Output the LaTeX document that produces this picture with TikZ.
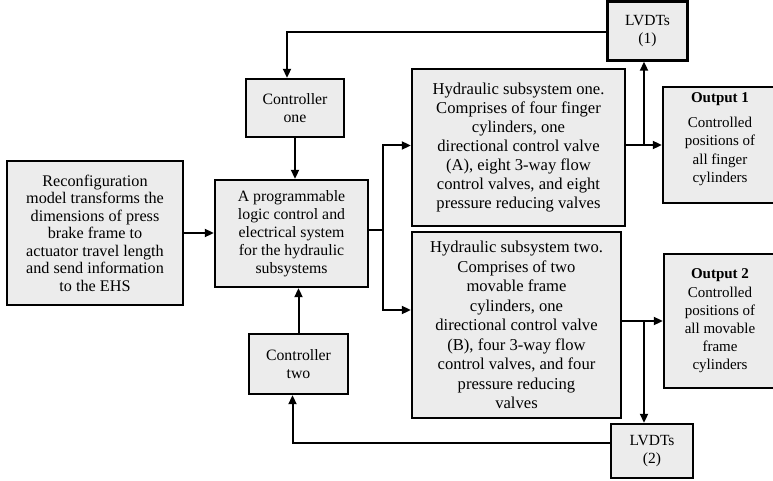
\documentclass[tikz,border=0pt]{standalone}
\usepackage{fontspec}
\setmainfont{Liberation Serif}
\usetikzlibrary{arrows.meta}
\definecolor{cajagris}{RGB}{236,236,236}
\newcommand{\letra}[2]{\fontsize{#1}{#2}\selectfont}

\begin{document}
\begin{tikzpicture}[x=1pt, y=-1pt,
    caja/.style={draw, line width=2.4pt, fill=cajagris, align=center,
                 inner sep=0pt, font=\letra{15.8}{18.2}},
    flecha/.style={line width=2pt, -{Triangle[length=9pt,width=8pt]}},
    linea/.style={line width=2pt}]
    \useasboundingbox (0,0) rectangle (773,481);

    % Bloques principales
    \node[caja, font=\letra{16.2}{17.5}, minimum width=176, minimum height=144]
        (recon) at (95,233)
        {Reconfiguration\\model transforms the\\dimensions of press\\brake frame to\\actuator travel length\\and send information\\to the EHS};
    \node[caja, font=\letra{15.8}{17.9}, minimum width=153, minimum height=107]
        (plc) at (291.5,233.5)
        {A programmable\\logic control and\\electrical system\\for the hydraulic\\subsystems};
    \node[caja, minimum width=98, minimum height=58] (ctrlone) at (295,108)
        {Controller\\one};
    \node[caja, minimum width=99, minimum height=60] (ctrltwo) at (298.5,364)
        {Controller\\two};

    % Subsistemas hidráulicos
    \node[caja, font=\letra{16.6}{19}, minimum width=213, minimum height=157]
        (hydone) at (518.5,147.5)
        {Hydraulic subsystem one.\\Comprises of four finger\\cylinders, one\\directional control valve\\(A), eight 3-way flow\\control valves, and eight\\pressure reducing valves};
    \node[caja, font=\letra{16.6}{19.5}, minimum width=209, minimum height=186]
        (hydtwo) at (516.5,325)
        {Hydraulic subsystem two.\\Comprises of two\\movable frame\\cylinders, one\\directional control valve\\(B), four 3-way flow\\control valves, and four\\pressure reducing\\valves};

    % Sensores LVDT
    \node[caja, font=\letra{15.5}{18.3}, minimum width=80, minimum height=59]
        (lvdtone) at (647.5,31) {LVDTs\\(1)};
    \node[caja, font=\letra{15.5}{18.3}, minimum width=82, minimum height=54]
        (lvdttwo) at (652,451) {LVDTs\\(2)};

    % Salidas (cortadas por el borde derecho)
    \node[caja, font=\letra{15}{18.3}, minimum width=114, minimum height=116]
        (outone) at (720,145)
        {\textbf{Output 1}\\[7pt]Controlled\\positions of\\all finger\\cylinders\\[-3pt]\mbox{}};
    \node[caja, font=\letra{15}{18.2}, minimum width=112, minimum height=134]
        (outtwo) at (720,321)
        {\textbf{Output 2}\\Controlled\\positions of\\all movable\\frame\\cylinders};

    % Entrada al PLC
    \draw[flecha] (recon.east) -- (recon.east -| plc.west);
    \draw[flecha] (ctrlone.south) -- (ctrlone.south |- plc.north);
    \draw[flecha] (ctrltwo.north) -- (ctrltwo.north |- plc.south);

    % Reparto hacia los subsistemas
    \coordinate (split) at (383,230);
    \draw[linea] (plc.east |- split) -- (split);
    \draw[flecha] (split) |- ([yshift=2pt]hydone.west);
    \draw[flecha] (split) |- ([yshift=15pt]hydtwo.west);

    % Salidas y realimentación 1
    \coordinate (tapone) at (644,145);
    \draw[flecha] (hydone.east |- outone.west) -- (outone.west);
    \draw[flecha] (tapone) -- (tapone |- lvdtone.south);
    \draw[flecha] ([yshift=-1pt]lvdtone.west) -| ([xshift=-8pt]ctrlone.north);

    % Salidas y realimentación 2
    \coordinate (taptwo) at (644,321);
    \draw[flecha] (hydtwo.east |- outtwo.west) -- (outtwo.west);
    \draw[flecha] (taptwo) -- (taptwo |- lvdttwo.north);
    \draw[flecha] ([yshift=8pt]lvdttwo.west) -| ([xshift=-6pt]ctrltwo.south);
\end{tikzpicture}
\end{document}
